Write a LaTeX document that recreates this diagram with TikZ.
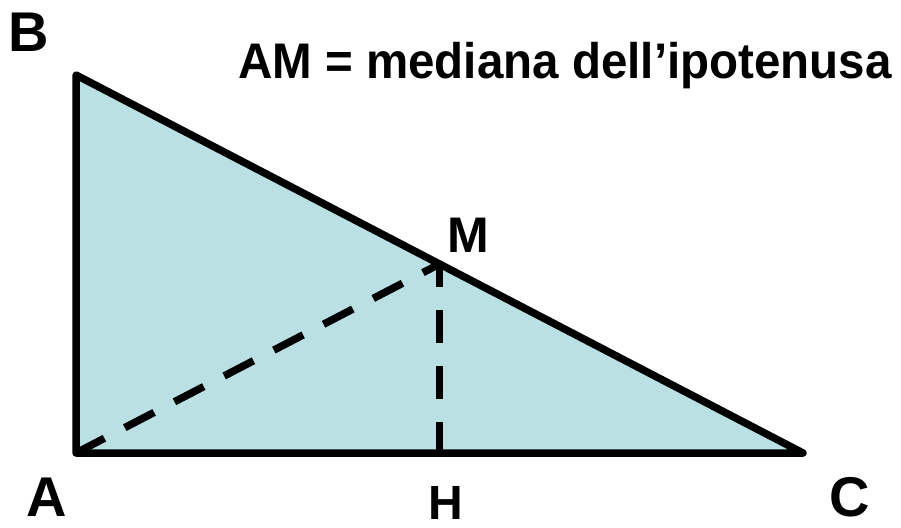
\documentclass[tikz,border=0pt]{standalone}
\usepackage{fontspec}
\setmainfont{Liberation Sans}
\usepackage{xcolor}
\usetikzlibrary{positioning,calc}
\definecolor{trifill}{RGB}{186,224,227}

\begin{document}
\begin{tikzpicture}[
    x=1pt, y=-1pt,
    lbl/.style={
        inner sep=0pt, font=\fontsize{#1}{#1}\selectfont\bfseries
    },
    lbl/.default=56,
    side/.style={line width=7.5pt, line join=round, line cap=round},
    dsh/.style={line width=7.5pt, dash pattern=on 33pt off 23pt},
]
\useasboundingbox (0,0) rectangle (901,527);

% Vertices
\coordinate (A) at (76,453);
\coordinate (B) at (76,75);
\coordinate (C) at (803,453);
\coordinate (M) at ($(B)!0.5!(C)$);
\coordinate (H) at (M |- A);

% Triangle
\filldraw[side, fill=trifill] (A) -- (B) -- (C) -- cycle;

% Median and height
\draw[dsh, dash phase=1pt] (A) -- (M);
\draw[dsh, dash phase=10pt] (M) -- (H);

% Labels
\node[lbl] (lB) at (29,32) {B};
\node[lbl] (lA) at (47,497) {A};
\node[lbl] (lC) at (850,497) {C};
\node[lbl=48] (lH) at (446,503) {H};
\node[lbl=50] (lM) at (468,235) {M};
\node[lbl=50, xscale=0.95] (title) at (565,66) {AM = mediana dell’ipotenusa};
\end{tikzpicture}
\end{document}
